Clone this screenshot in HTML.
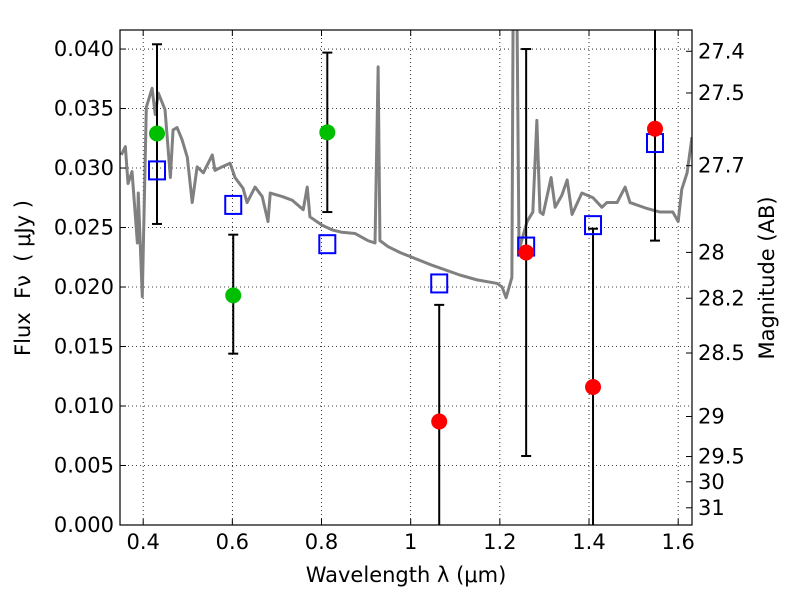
<!DOCTYPE html>
<html><head><meta charset="utf-8"><style>
body{margin:0;background:#fff}
svg text{font-family:"DejaVu Sans","Liberation Sans",sans-serif;fill:#000}
</style></head><body>
<svg id="chart" width="800" height="600" viewBox="0 0 800 600" xmlns="http://www.w3.org/2000/svg">
<rect width="800" height="600" fill="#fff"/>
<g id="grid"></g>
<g id="plot"></g>
<g id="axes"></g>
</svg>
<script>
const xTicks=[0.4,0.6,0.8,1.0,1.2,1.4,1.6];
const xTickLabels=["0.4","0.6","0.8","1","1.2","1.4","1.6"];
const yTicks=[0,0.005,0.01,0.015,0.02,0.025,0.03,0.035,0.04];
const yTickLabels=["0.000","0.005","0.010","0.015","0.020","0.025","0.030","0.035","0.040"];
const magTicks=[27.4,27.5,27.7,28,28.2,28.5,29,29.5,30,31];
const specWave=[0.351,0.360,0.366,0.375,0.387,0.389,0.398,0.407,0.420,0.427,0.434,0.449,0.461,0.467,0.476,0.487,0.499,0.510,0.521,0.535,0.555,0.561,0.577,0.595,0.606,0.624,0.633,0.651,0.667,0.680,0.685,0.712,0.734,0.759,0.768,0.774,0.801,0.824,0.846,0.875,0.904,0.920,0.927,0.931,0.949,0.976,1.050,1.111,1.149,1.194,1.205,1.214,1.227,1.230,1.238,1.243,1.261,1.274,1.283,1.290,1.297,1.315,1.324,1.339,1.351,1.362,1.384,1.409,1.429,1.440,1.463,1.481,1.492,1.530,1.559,1.588,1.600,1.608,1.620,1.631];
const specFlux=[0.0311,0.0318,0.0287,0.0297,0.0237,0.0279,0.0192,0.0351,0.0367,0.0345,0.0363,0.0349,0.0292,0.0332,0.0334,0.0324,0.0309,0.0271,0.0301,0.0296,0.0311,0.0298,0.0301,0.0304,0.0292,0.0283,0.0271,0.0284,0.0276,0.0255,0.0279,0.0276,0.0273,0.0265,0.0284,0.0259,0.0252,0.0248,0.0246,0.0245,0.0239,0.0237,0.0385,0.0239,0.0234,0.0229,0.0218,0.0210,0.0206,0.0203,0.0200,0.0191,0.0208,0.045,0.045,0.0231,0.0255,0.0263,0.0340,0.0263,0.0261,0.0292,0.0267,0.0277,0.0290,0.0261,0.0279,0.0275,0.0267,0.0271,0.0271,0.0284,0.0271,0.0266,0.0263,0.0263,0.0255,0.0282,0.0296,0.0326];
const greenWave=[0.431,0.602,0.813];
const greenFlux=[0.0329,0.0193,0.0330];
const greenLo=[0.0253,0.0144,0.0263];
const greenHi=[0.0404,0.0244,0.0397];
const redWave=[1.064,1.259,1.409,1.548];
const redFlux=[0.0087,0.0229,0.0116,0.0333];
const redLo=[-0.002,0.0058,-0.002,0.0239];
const redHi=[0.0185,0.0400,0.0249,0.050];
const modelWave=[0.431,0.602,0.813,1.064,1.259,1.409,1.548];
const modelFlux=[0.0298,0.0269,0.0236,0.0203,0.0234,0.0252,0.0321];

const L=120,R=692,T=30,B=525,X0=0.348,X1=1.631,Y0=0,Y1=0.0416;
const sx=v=>L+(v-X0)/(X1-X0)*(R-L);
const sy=v=>B-(v-Y0)/(Y1-Y0)*(B-T);
const magToFlux=m=>Math.pow(10,-0.4*(m-23.9));
const NS="http://www.w3.org/2000/svg";
function mk(tag,attrs,parent,text){const e=document.createElementNS(NS,tag);for(const k in attrs)e.setAttribute(k,attrs[k]);if(text!==undefined)e.textContent=text;parent.appendChild(e);return e;}
const grid=document.getElementById('grid'),plot=document.getElementById('plot'),axes=document.getElementById('axes');
mk('clipPath',{id:'clip'},plot);mk('rect',{x:L,y:T,width:R-L,height:B-T},document.getElementById('clip'));
xTicks.forEach((t,i)=>{const x=sx(t);
 const g=mk('line',{x1:x,x2:x,y1:T,y2:B,stroke:'#000','stroke-dasharray':'1,3','stroke-width':0.8},grid);
 
 mk('line',{x1:x,x2:x,y1:B,y2:B-6,stroke:'#000'},axes);mk('line',{x1:x,x2:x,y1:T,y2:T+6,stroke:'#000'},axes);
 const lb=mk('text',{x:x,y:B+24,'font-size':21,'text-anchor':'middle'},axes,xTickLabels[i]);
 });
yTicks.forEach((t,i)=>{const y=sy(t);
 const g=mk('line',{x1:L,x2:R,y1:y,y2:y,stroke:'#000','stroke-dasharray':'1,3','stroke-width':0.8},grid);
 
 mk('line',{x1:L,x2:L+6,y1:y,y2:y,stroke:'#000'},axes);
 const lb=mk('text',{x:L-6,y:y+7,'font-size':21,'text-anchor':'end'},axes,yTickLabels[i]);
 });
magTicks.forEach(m=>{const y=sy(magToFlux(m));
 mk('line',{x1:R,x2:R-6,y1:y,y2:y,stroke:'#000'},axes);
 const lb=mk('text',{x:R+6,y:y+7,'font-size':21},axes,String(m));
 });
const cg=mk('g',{'clip-path':'url(#clip)'},plot);
const sp=mk('polyline',{points:specWave.map((w,i)=>sx(w)+','+sy(specFlux[i])).join(' '),fill:'none',stroke:'#808080','stroke-width':3,'stroke-linejoin':'round'},cg);

function errbar(w,lo,hi){const x=sx(w);
 const e=mk('line',{x1:x,x2:x,y1:sy(lo),y2:sy(hi),stroke:'#000','stroke-width':2},cg);
 
 [lo,hi].forEach(v=>mk('line',{x1:x-5,x2:x+5,y1:sy(v),y2:sy(v),stroke:'#000','stroke-width':2},cg));}
greenWave.forEach((w,i)=>errbar(w,greenLo[i],greenHi[i]));
redWave.forEach((w,i)=>errbar(w,redLo[i],redHi[i]));
modelWave.forEach((w,i)=>{const s=mk('rect',{x:sx(w)-8,y:sy(modelFlux[i])-9,width:16,height:18,fill:'none',stroke:'#0000ff','stroke-width':2},cg);
 });
greenWave.forEach((w,i)=>{const c=mk('circle',{cx:sx(w),cy:sy(greenFlux[i]),r:8,fill:'#00bf00'},cg);
 });
redWave.forEach((w,i)=>{const c=mk('circle',{cx:sx(w),cy:sy(redFlux[i]),r:8,fill:'#ff0000'},cg);
 });
const fr=mk('rect',{x:L,y:T,width:R-L,height:B-T,fill:'none',stroke:'#000','stroke-width':1.2},axes);

const xl=mk('text',{x:406,y:582,'font-size':21,'text-anchor':'middle'},axes,'Wavelength  λ (μm)');

const yl=mk('text',{x:0,y:0,'font-size':21,'text-anchor':'middle',transform:'translate(30,278) rotate(-90)','xml:space':'preserve'},axes,'Flux\u00A0\u00A0F\u03BD\u00A0\u00A0(\u00A0μJy\u00A0)');

const ml=mk('text',{x:0,y:0,'font-size':21,'text-anchor':'middle',transform:'translate(774,278) rotate(-90)'},axes,'Magnitude (AB)');

</script>
</body></html>
